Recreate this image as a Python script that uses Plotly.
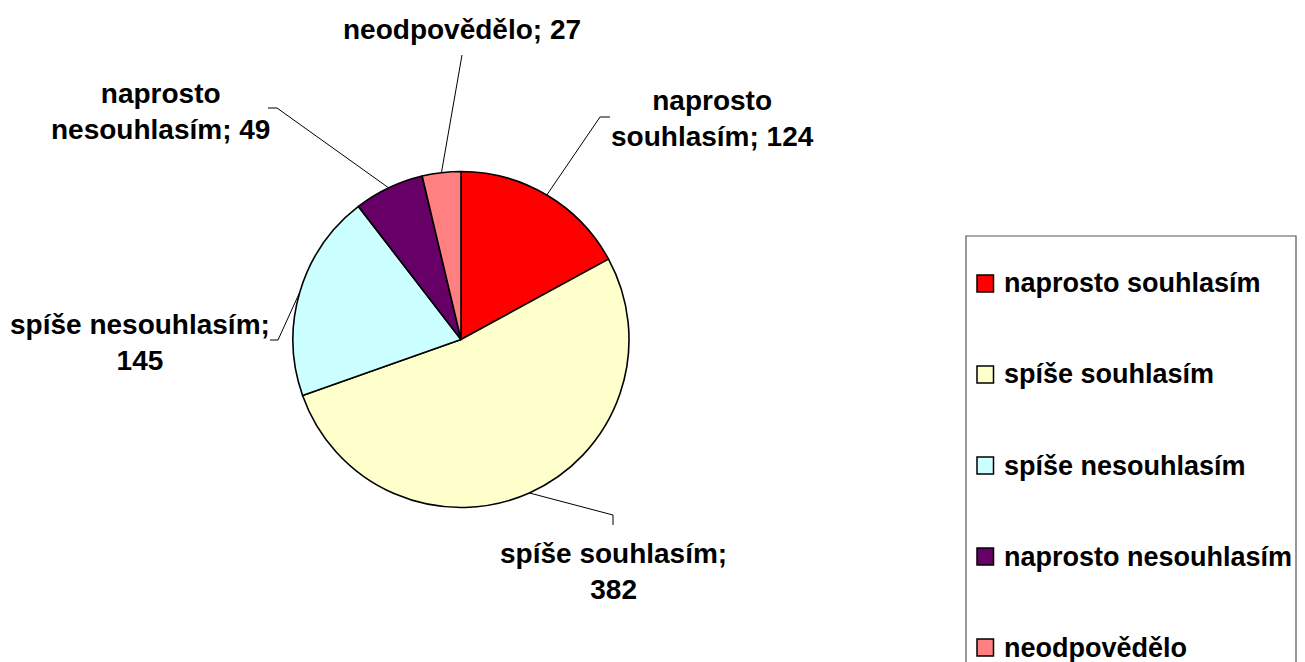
import math
import plotly.graph_objects as go

# ---- data ----
labels = ["naprosto souhlasím", "spíše souhlasím", "spíše nesouhlasím",
          "naprosto nesouhlasím", "neodpovědělo"]
values = [124, 382, 145, 49, 27]
colors = ["#FF0000", "#FFFFCC", "#CCFFFF", "#660066", "#FF8080"]
label_texts = ["naprosto<br>souhlasím; 124", "spíše souhlasím;<br>382",
               "spíše nesouhlasím;<br>145", "naprosto<br>nesouhlasím; 49",
               "neodpovědělo; 27"]

# ---- layout (page pixels; page body has an 8px margin) ----
OFF = 8
W, H = 1305 - 2 * OFF, 662 - OFF
CX, CY, R = 461, 339.5, 168
FONT = "Arial, Liberation Sans, sans-serif"
FS = 28
FS_LEG = 27

# label anchor positions (text centers) and leader-line bends
label_pos = [(712, 118), (613, 571), (140, 342), (160, 111), (462, 30)]
bend_pts = [[(600, 117), (610, 117)], [(613, 515), (613, 525)],
            [(278, 340), (270, 340)], [(277, 108), (268, 108)], [(462, 55)]]

def px(x):
    return (x - OFF) / W

def py(y):
    return 1 - (y - OFF) / H

fig = go.Figure()
fig.add_trace(go.Pie(
    labels=labels, values=values, sort=False, direction="clockwise",
    rotation=0, textinfo="none", hoverinfo="label+value",
    marker=dict(colors=colors, line=dict(color="black", width=1.6)),
    domain=dict(x=[px(CX - R), px(CX + R)], y=[py(CY + R), py(CY - R)]),
    showlegend=False,
))

shapes = []
annotations = []
total = sum(values)
cum = 0
for i, v in enumerate(values):
    mid = (cum + v / 2) / total * 2 * math.pi
    cum += v
    ex = CX + R * math.sin(mid)
    ey = CY - R * math.cos(mid)
    pts = [(ex, ey)] + bend_pts[i]
    path = "M " + " L ".join(f"{px(x)},{py(y)}" for x, y in pts)
    shapes.append(dict(type="path", xref="paper", yref="paper", path=path,
                       line=dict(color="black", width=1)))
    lx, ly = label_pos[i]
    annotations.append(dict(x=px(lx), y=py(ly), xref="paper", yref="paper",
                            text=f"<b>{label_texts[i]}</b>", showarrow=False,
                            xanchor="center", yanchor="middle",
                            font=dict(family=FONT, size=FS, color="black")))

# ---- custom legend ----
LEG_L, LEG_T, LEG_R = 966, 236, 1296
shapes.append(dict(type="rect", xref="paper", yref="paper",
                   x0=px(LEG_L), x1=px(LEG_R), y0=py(LEG_T), y1=py(662 + 10),
                   line=dict(color="#555555", width=1.2), fillcolor="rgba(0,0,0,0)"))
row_y0, row_gap = 283.5, 91
for i, lab in enumerate(labels):
    yc = row_y0 + i * row_gap
    shapes.append(dict(type="rect", xref="paper", yref="paper",
                       x0=px(977), x1=px(993.5), y0=py(yc + 8.5), y1=py(yc - 8.5),
                       line=dict(color="black", width=1.5), fillcolor=colors[i]))
    annotations.append(dict(x=px(1002), y=py(yc), xref="paper", yref="paper",
                            text=f"<b>{lab}</b>", showarrow=False,
                            xanchor="left", yanchor="middle",
                            font=dict(family=FONT, size=FS_LEG, color="black")))

fig.update_layout(width=W, height=H, margin=dict(l=0, r=0, t=0, b=0),
                  paper_bgcolor="white", plot_bgcolor="white",
                  shapes=shapes, annotations=annotations, showlegend=False)

fig.write_html("out.html")
